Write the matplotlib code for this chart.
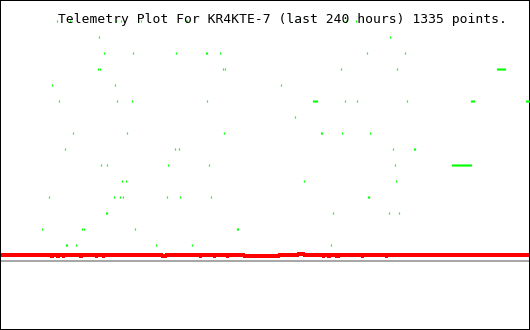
"""
Telemetry plot for KR4KTE-7, last 240 hours.
"""

import matplotlib
matplotlib.use('Agg')
import matplotlib.pyplot as plt

title = 'Telemetry Plot For KR4KTE-7 (last 240 hours) 1335 points.'

# green channel: (hours, level), grouped by level
green = {
	15: [25.8, 31.7, 52.5, 54.8, 63.8, 84.2, 84.7, 133.6, 156.7, 161.2],
	14: [44.8, 176.6],
	13: [47.1, 60.2, 79.7, 93.3, 93.7, 99.6, 166.2, 183.4],
	12: [44.4, 45.3, 101.0, 101.9, 154.4, 179.8,
		225.1, 225.5, 226.0, 226.4, 226.9, 227.3, 227.8, 228.2, 228.7],
	11: [23.5, 52.1, 127.2],
	10: [26.7, 53.0, 59.8, 93.7, 141.7, 142.2, 142.6, 143.1, 143.5, 156.2, 161.7,
		184.3, 213.3, 213.7, 214.2, 214.6, 238.2, 238.6, 239.1, 239.5],
	9: [133.6],
	8: [33.1, 57.5, 101.4, 145.4, 145.8, 154.9, 167.5],
	7: [29.4, 79.2, 81.1, 178.0, 187.5, 187.9],
	6: [45.7, 48.5, 76.1, 94.6, 178.9,
		204.7, 205.1, 205.6, 206.0, 206.5, 206.9, 207.4, 207.8, 208.3, 208.7,
		209.2, 209.6, 210.1, 210.5, 211.0, 211.4, 211.9, 212.3, 212.8, 213.2],
	5: [55.2, 57.1, 137.7, 179.3],
	4: [22.2, 51.6, 54.3, 55.7, 75.6, 81.5, 95.5, 166.6, 167.1],
	3: [48.0, 48.5, 150.8, 176.2, 180.7],
	2: [19.0, 37.1, 38.0, 61.1, 107.3, 107.8],
	1: [29.9, 30.3, 34.4, 70.6, 86.9, 149.9],
}

# red channel, stepped
red_t = [0.0, 23.1, 24.0, 25.8, 26.7, 28.5, 29.0, 36.2, 37.1, 43.5, 43.9, 46.6, 47.1,
	73.4, 75.2, 80.2, 82.4, 83.8, 84.7, 90.6, 91.0, 96.9, 97.4, 102.8, 103.2,
	110.5, 126.3, 134.9, 137.7, 146.3, 146.7, 148.5, 149.4, 152.1, 152.6, 153.1, 153.5,
	163.9, 164.4, 174.8, 175.2, 240.0]
red_v = [0.34, 0.30, 0.34, 0.29, 0.34, 0.30, 0.34, 0.29, 0.34, 0.30, 0.34, 0.30, 0.34,
	0.28, 0.34, 0.38, 0.34, 0.38, 0.34, 0.30, 0.34, 0.30, 0.34, 0.30, 0.34,
	0.28, 0.34, 0.40, 0.34, 0.29, 0.34, 0.29, 0.34, 0.29, 0.34, 0.29, 0.34,
	0.30, 0.34, 0.30, 0.34, 0.34]

W, H, dpi = 530, 330, 100
px = 72.0 / dpi

fig = plt.figure(figsize=(W / dpi, H / dpi), dpi=dpi)
ax = fig.add_axes([0, 0, 1, 1])
ax.set_xlim(0, 240)
ax.set_ylim(-(H - 260.8) / 16, 260.8 / 16)
ax.set_xticks([])
ax.set_yticks([])
for s in ax.spines.values():
	s.set_linewidth(2 * px)
	s.set_color('black')

ax.axhline(0, color='#a8a8a8', lw=2 * px, zorder=1, antialiased=False)
ax.plot(red_t, red_v, color='#ff0000', lw=2.4 * px, drawstyle='steps-post', zorder=2,
	antialiased=False)

for lvl, ts in green.items():
	ax.plot(ts, [lvl] * len(ts), linestyle='None', marker='|', markersize=2 * px,
		markeredgewidth=1.2 * px, color='#00ff00', zorder=3, antialiased=False)

fig.text(58.0 / W, 1 - 23.0 / H, title, family='DejaVu Sans Mono', fontsize=9.4,
	ha='left', va='baseline', color='black', zorder=5)

fig.savefig('out.png', dpi=dpi)
